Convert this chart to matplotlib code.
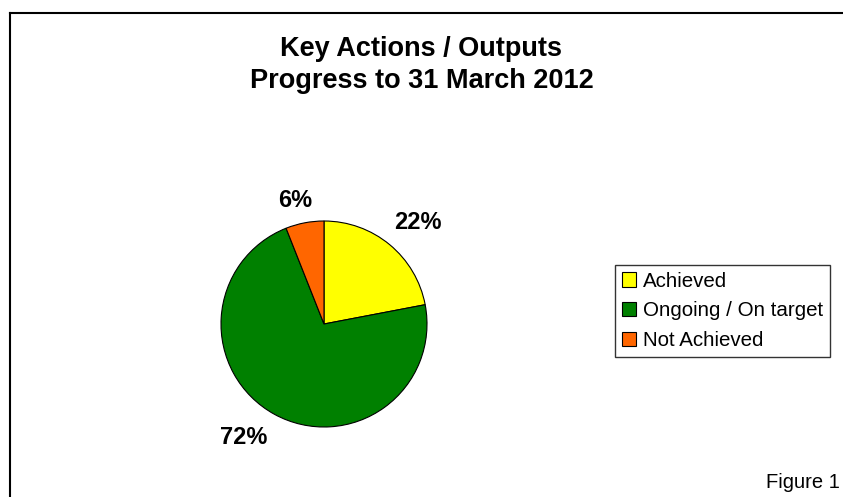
import matplotlib
matplotlib.use("Agg")
import matplotlib.pyplot as plt
from matplotlib.lines import Line2D

plt.rcParams['font.family'] = ['Liberation Sans', 'DejaVu Sans']

categories = ['Achieved', 'Ongoing / On target', 'Not Achieved']
shares = [22, 72, 6]
colours = ['#FFFF00', '#008000', '#FF6600']

W, H = 843, 497
fig = plt.figure(figsize=(W / 100, H / 100), dpi=100)

# border (top and left only, chart is cropped)
fig.add_artist(Line2D([10 / W, 1], [1 - 12.5 / H, 1 - 12.5 / H], color='black', lw=1.5))
fig.add_artist(Line2D([10 / W, 10 / W], [0, 1 - 12.5 / H], color='black', lw=1.5))

fig.text(0.5, 1 - 48.5 / H, 'Key Actions / Outputs', ha='center', va='center',
         fontsize=19.5, fontweight='bold')
fig.text(0.5, 1 - 81.5 / H, 'Progress to 31 March 2012', ha='center', va='center',
         fontsize=19.5, fontweight='bold')

# pie centre (324, 324), radius 103 px
cx, cy, r = 324, 324, 103
ax = fig.add_axes([(cx - r) / W, (H - cy - r) / H, 2 * r / W, 2 * r / H])
wedges, texts, autotexts = ax.pie(shares, colors=colours, startangle=90, counterclock=False,
                                  autopct='%d%%', pctdistance=1.3, radius=1,
                                  wedgeprops=dict(edgecolor='black', linewidth=0.8),
                                  textprops=dict(fontsize=17, fontweight='bold'))
# label placement like the original (offsets in pie radii)
label_pos = [(0.91, 0.99), (-0.78, -1.10), (-0.28, 1.20)]
for t, p in zip(autotexts, label_pos):
    t.set_position(p)
ax.set_xlim(-1, 1)
ax.set_ylim(-1, 1)
ax.set_aspect('equal')

leg = fig.legend(wedges, categories, loc='upper left', bbox_to_anchor=(615 / W, 1 - 265 / H),
                 fontsize=14.8, frameon=True, fancybox=False, edgecolor='black',
                 handlelength=0.7, handleheight=0.7, handletextpad=0.35,
                 borderpad=0.32, labelspacing=0.52, borderaxespad=0)
leg.get_frame().set_linewidth(1.0)

fig.text(840 / W, 1 - 482 / H, 'Figure 1', ha='right', va='center', fontsize=14.5)

fig.savefig('out.png', dpi=100)
